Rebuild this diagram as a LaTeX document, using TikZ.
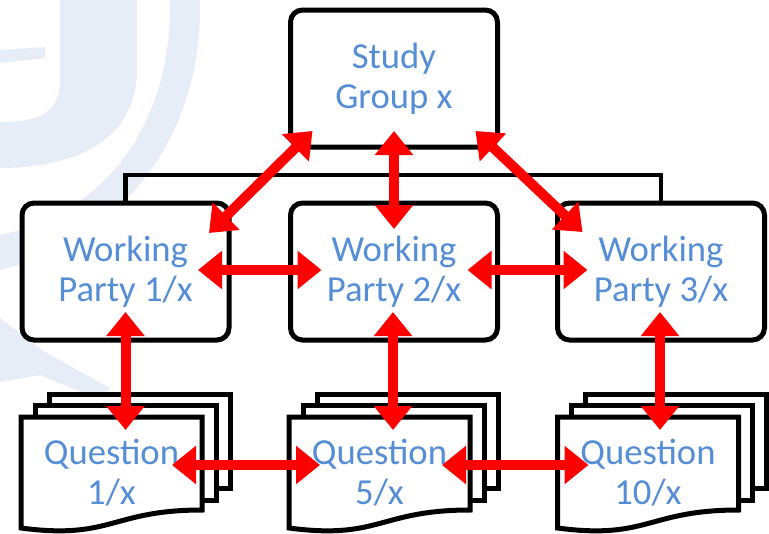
\documentclass[tikz,border=0pt]{standalone}
\usepackage{fontspec}
\setmainfont{Carlito}
\usetikzlibrary{arrows.meta,calc}
\definecolor{txtblue}{RGB}{85,142,213}
\definecolor{wmark}{RGB}{231,237,247}
\definecolor{arrred}{RGB}{255,0,0}
\pgfdeclarelayer{wm}
\pgfdeclarelayer{bg}
\pgfsetlayers{wm,bg,main}

\begin{document}
\begin{tikzpicture}[x=0.75pt,y=-0.75pt,
  labelfont/.style={font=\fontsize{27.5}{30}\selectfont},
  box/.style={draw=black, line width=3.75pt, rounded corners=9pt, fill=white,
    inner sep=0pt, outer sep=0pt, text=txtblue, align=center, labelfont,
    minimum width=155.25pt, minimum height=102.75pt},
  qlabel/.style={inner sep=0pt, outer sep=0pt, text=txtblue, align=center,
    labelfont, minimum width=135.75pt, minimum height=83.25pt},
  page/.style={draw=black, line width=3.75pt, fill=white, line join=miter},
  conn/.style={draw=black, line width=3.5pt},
  biarrow/.style={draw=arrred, line width=7.5pt,
    {Triangle[length=18pt,width=27.75pt]}-{Triangle[length=18pt,width=27.75pt]}},
]
\useasboundingbox (0,0) rectangle (769,533);

% faint logo in the background
\begin{pgfonlayer}{wm}
  \fill[wmark] (60,0) -- (60,80) .. controls (60,112) and (40,122) .. (0,122)
    -- (0,168) .. controls (90,168) and (137,130) .. (137,70) -- (137,0) -- cycle;
  \fill[wmark] (0,50) -- (45,47) -- (45,58) -- (0,63) -- cycle;
  \fill[wmark] (170,0) .. controls (172,130) and (100,215) .. (0,235)
    -- (0,270) .. controls (120,240) and (203,140) .. (200,0) -- cycle;
  \fill[wmark] (0,318) -- (45,352) -- (110,388) -- (100,400) -- (40,375) -- (0,382) -- cycle;
\end{pgfonlayer}

% organisation boxes
\node[box] (sg)  at (394,78.5)   {Study\\Group x};
\node[box] (wp1) at (125.5,271.5) {Working\\Party 1/x};
\node[box] (wp2) at (394,271.5)   {Working\\Party 2/x};
\node[box] (wp3) at (661,271.5)   {Working\\Party 3/x};

% question documents
\node[qlabel] (q1)  at (111.5,472.5) {Question\\1/x};
\node[qlabel] (q5)  at (379.5,472.5) {Question\\5/x};
\node[qlabel] (q10) at (648,472.5)   {Question\\10/x};

\begin{pgfonlayer}{bg}
  \draw[conn] (wp1.north) -- ++(0,-28) -| (wp3.north);
  \foreach \q in {q1,q5,q10} {
    \draw[page] ($(\q.north west)+(28,-23)$) rectangle ($(\q.north east)+(28,71)$);
    \draw[page] ($(\q.north west)+(14,-12)$) rectangle ($(\q.north east)+(14,83)$);
    \draw[page] (\q.north west) -- (\q.north east) -- ($(\q.north east)+(0,93)$)
      .. controls ($(\q.north)+(0,93)$) and ($(\q.north)+(0,123)$) .. (\q.south west) -- cycle;
  }
\end{pgfonlayer}

% two-way links
\draw[biarrow] ($(sg.south west)+(22,-16)$) -- ($(wp1.north east)+(-20,30)$);
\draw[biarrow] ($(sg.south)+(0,-16)$) -- ($(wp2.north)+(0,26)$);
\draw[biarrow] ($(sg.south east)+(-22,-16)$) -- ($(wp3.north west)+(25,29)$);
\draw[biarrow] ($(wp1.east)+(-31,-1.5)$) -- ($(wp2.west)+(31,-1.5)$);
\draw[biarrow] ($(wp2.east)+(-30,-1.5)$) -- ($(wp3.west)+(30,-1.5)$);
\draw[biarrow] ($(wp1.south)+(0,-28)$) -- ($(wp1.south|-q1.north)+(0,13)$);
\draw[biarrow] ($(wp2.south)+(-1,-28)$) -- ($(wp2.south|-q5.north)+(-1,13)$);
\draw[biarrow] ($(wp3.south)+(-1,-28)$) -- ($(wp3.south|-q10.north)+(-1,13)$);
\draw[biarrow] ($(q1.east)+(-30,-7.5)$) -- ($(q5.west)+(31,-7.5)$);
\draw[biarrow] ($(q5.east)+(-28,-7.5)$) -- ($(q10.west)+(31,-7.5)$);
\end{tikzpicture}
\end{document}
